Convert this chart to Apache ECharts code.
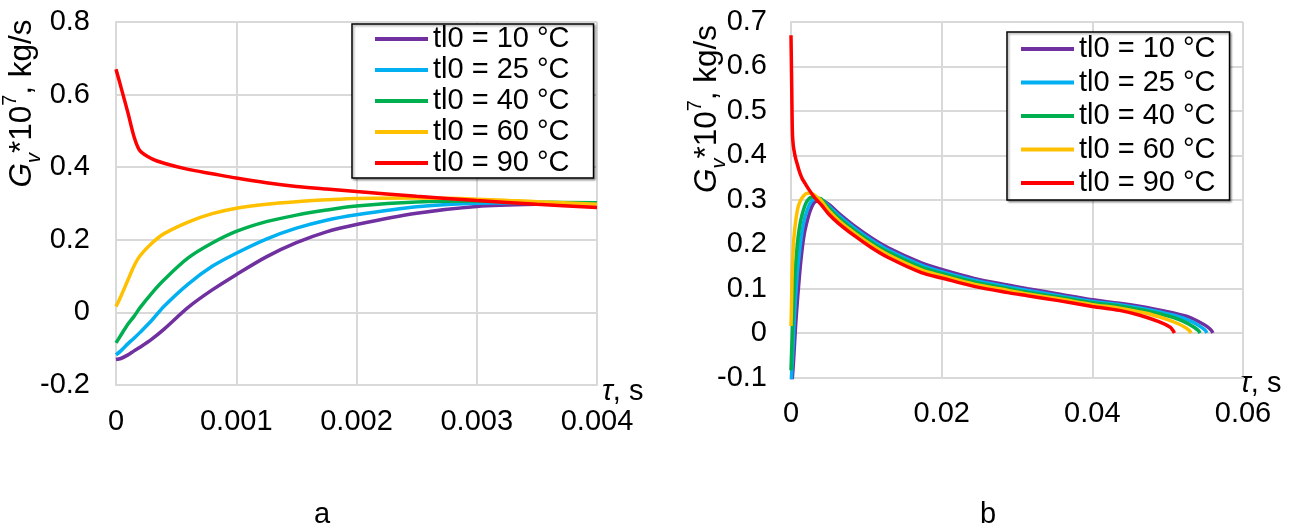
<!DOCTYPE html>
<html><head><meta charset="utf-8">
<script src="https://cdn.jsdelivr.net/npm/echarts@6/dist/echarts.min.js"></script>
<style>html,body{margin:0;padding:0;background:#fff;}#c{width:1296px;height:529px;}</style>
</head><body><div id="c"></div>
<script>
// ---- data ----
const seriesNames = ['tl0 = 10 °C', 'tl0 = 25 °C', 'tl0 = 40 °C', 'tl0 = 60 °C', 'tl0 = 90 °C'];
const colors = ['#7030A0', '#00B0F0', '#00B050', '#FFC000', '#FF0000'];

// panel a (also the start of panel b): time, s
const tA = [0, 0.00004, 0.0001, 0.00015, 0.0002, 0.0003, 0.0004, 0.0006, 0.0008, 0.001, 0.00125, 0.0015, 0.00175, 0.002, 0.0025, 0.003, 0.0035, 0.004];
const gA10 = [-0.130, -0.127, -0.117, -0.106, -0.096, -0.073, -0.046, 0.014, 0.062, 0.104, 0.153, 0.192, 0.222, 0.242, 0.273, 0.292, 0.298, 0.299];
const gA25 = [-0.117, -0.106, -0.086, -0.071, -0.055, -0.021, 0.017, 0.078, 0.127, 0.163, 0.202, 0.232, 0.254, 0.269, 0.291, 0.301, 0.302, 0.301];
const gA40 = [-0.084, -0.063, -0.032, -0.011, 0.013, 0.054, 0.090, 0.150, 0.191, 0.223, 0.250, 0.268, 0.282, 0.293, 0.304, 0.307, 0.304, 0.302];
const gA60 = [0.016, 0.044, 0.090, 0.128, 0.156, 0.191, 0.217, 0.249, 0.272, 0.287, 0.298, 0.305, 0.310, 0.314, 0.315, 0.312, 0.305, 0.298];
const gA90 = [0.670, 0.622, 0.549, 0.484, 0.445, 0.423, 0.411, 0.394, 0.382, 0.370, 0.357, 0.347, 0.340, 0.333, 0.320, 0.308, 0.298, 0.289];

// panel b continuation
const tB = [0.005, 0.0063, 0.0085, 0.0107, 0.0129, 0.0173, 0.02, 0.0243, 0.0288, 0.0314, 0.0355, 0.04, 0.0436];
const gB10 = [0.290, 0.270, 0.240, 0.214, 0.192, 0.158, 0.143, 0.123, 0.108, 0.100, 0.088, 0.075, 0.067];
const gB25 = [0.286, 0.265, 0.235, 0.209, 0.187, 0.153, 0.138, 0.119, 0.104, 0.096, 0.084, 0.071, 0.064];
const gB40 = [0.282, 0.260, 0.230, 0.204, 0.182, 0.148, 0.134, 0.115, 0.100, 0.092, 0.081, 0.068, 0.061];
const gB60 = [0.276, 0.254, 0.224, 0.198, 0.176, 0.142, 0.129, 0.110, 0.096, 0.088, 0.077, 0.064, 0.056];
const gB90 = [0.268, 0.247, 0.218, 0.192, 0.170, 0.136, 0.124, 0.105, 0.091, 0.084, 0.073, 0.060, 0.051];

// panel b endings
const tE10 = [0.048, 0.0525, 0.0542, 0.0552, 0.0558, 0.0560];
const gE10 = [0.055, 0.038, 0.025, 0.015, 0.006, 0];
const tE25 = [0.048, 0.0517, 0.0534, 0.0544, 0.0550, 0.0552];
const gE25 = [0.051, 0.036, 0.024, 0.014, 0.006, 0];
const tE40 = [0.048, 0.0508, 0.0525, 0.0535, 0.0541, 0.0543];
const gE40 = [0.047, 0.035, 0.023, 0.013, 0.005, 0];
const tE60 = [0.047, 0.0497, 0.0514, 0.0524, 0.0529, 0.0531];
const gE60 = [0.045, 0.032, 0.021, 0.012, 0.005, 0];
const tE90 = [0.0463, 0.0489, 0.0503, 0.0507, 0.0509];
const gE90 = [0.040, 0.025, 0.0135, 0.006, 0];

const yTicksA = { min: -0.2, max: 0.8, interval: 0.2 };
const xTicksA = { min: 0, max: 0.004, interval: 0.001 };
const yTicksB = { min: -0.1, max: 0.7, interval: 0.1 };
const xTicksB = { min: 0, max: 0.06, interval: 0.02 };

// ---- build ----
const FONT = '"Liberation Sans", Arial, sans-serif';
const gA = [gA10, gA25, gA40, gA60, gA90];
const gB = [gB10, gB25, gB40, gB60, gB90];
const tE = [tE10, tE25, tE40, tE60, tE90];
const gE = [gE10, gE25, gE40, gE60, gE90];
const pairs = (ts, gs) => ts.map((t, i) => [t, gs[i]]);

const series = [];
seriesNames.forEach((name, k) => {
  series.push({
    name, type: 'line', xAxisIndex: 0, yAxisIndex: 0,
    data: pairs(tA, gA[k]), symbol: 'none', showSymbol: false, smooth: 0.3,
    lineStyle: { width: 3.5, color: colors[k] }, itemStyle: { color: colors[k] }
  });
});
seriesNames.forEach((name, k) => {
  series.push({
    name, type: 'line', xAxisIndex: 1, yAxisIndex: 1,
    data: pairs(tA, gA[k]).concat(pairs(tB, gB[k]), pairs(tE[k], gE[k])),
    symbol: 'none', showSymbol: false, smooth: 0.3,
    lineStyle: { width: 3.5, color: colors[k] }, itemStyle: { color: colors[k] }
  });
});

const gridLine = { show: true, lineStyle: { color: '#d9d9d9', width: 2 } };
const axLine = { show: true, onZero: false, lineStyle: { color: '#d9d9d9', width: 2 } };
const lbl = (m) => ({ color: '#000', fontSize: 29, fontFamily: FONT, margin: m });
const tauName = '{i|τ}{n|, s}';
const tauRich = { i: { fontStyle: 'italic', fontSize: 29, fontFamily: FONT, color: '#000' }, n: { fontSize: 29, fontFamily: FONT, color: '#000' } };

const titleRich = {
  g: { fontStyle: 'italic', fontSize: 31.5, fontFamily: FONT, color: '#000', lineHeight: 44 },
  sub: { fontStyle: 'italic', fontSize: 20, fontFamily: FONT, color: '#000', lineHeight: 20, verticalAlign: 'bottom' },
  sup: { fontSize: 20, fontFamily: FONT, color: '#000', lineHeight: 32, verticalAlign: 'top' },
  n: { fontSize: 31.5, fontFamily: FONT, color: '#000', lineHeight: 44 }
};
const titleText = '{g|G}{sub|v}{n|*10}{sup|7}{n|, kg/s}';

const legendBase = {
  orient: 'vertical', data: seriesNames, icon: 'rect', itemWidth: 53, itemHeight: 4,
  borderColor: '#000', borderWidth: 1.5, backgroundColor: '#fff',
  shadowColor: 'rgba(0,0,0,0.35)', shadowBlur: 2, shadowOffsetX: 1.5, shadowOffsetY: 1.5,
  textStyle: { fontSize: 29, lineHeight: 30, color: '#000', fontFamily: FONT },
  selectedMode: false
};

const option = {
  animation: false,
  backgroundColor: '#fff',
  grid: [
    { left: 116, top: 22, width: 481, height: 363 },
    { left: 791, top: 22, width: 452, height: 355.5 }
  ],
  xAxis: [
    { type: 'value', gridIndex: 0, ...xTicksA, splitLine: gridLine, axisLine: axLine, axisTick: { show: false },
      axisLabel: lbl(22), name: tauName, nameLocation: 'end', nameGap: 5,
      nameTextStyle: { rich: tauRich, verticalAlign: 'middle', padding: [14, 0, 0, 0] } },
    { type: 'value', gridIndex: 1, ...xTicksB, splitLine: gridLine, axisLine: axLine, axisTick: { show: false },
      axisLabel: lbl(22), name: tauName, nameLocation: 'end', nameGap: -3,
      nameTextStyle: { rich: tauRich, verticalAlign: 'middle', padding: [12, 0, 0, 0] } }
  ],
  yAxis: [
    { type: 'value', gridIndex: 0, ...yTicksA, splitLine: gridLine, axisLine: axLine, axisTick: { show: false }, axisLabel: lbl(26) },
    { type: 'value', gridIndex: 1, ...yTicksB, splitLine: gridLine, axisLine: axLine, axisTick: { show: false }, axisLabel: lbl(24) }
  ],
  legend: [
    { ...legendBase, left: 352, top: 24, itemGap: 1, padding: [0, 24, 0, 23] },
    { ...legendBase, left: 1007, top: 32, itemGap: 3.5, padding: [2, 14, 2, 14] }
  ],
  graphic: [
    { type: 'text', x: 22.5, y: 103.5, rotation: Math.PI / 2,
      style: { text: titleText, rich: titleRich, align: 'center', verticalAlign: 'middle' } },
    { type: 'text', x: 707, y: 109, rotation: Math.PI / 2,
      style: { text: titleText, rich: titleRich, align: 'center', verticalAlign: 'middle' } },
    { type: 'text', x: 322, y: 515, style: { text: 'a', fontSize: 29, fontFamily: FONT, fill: '#000', align: 'center', verticalAlign: 'middle' } },
    { type: 'text', x: 988, y: 515, style: { text: 'b', fontSize: 29, fontFamily: FONT, fill: '#000', align: 'center', verticalAlign: 'middle' } }
  ],
  series
};

const chart = echarts.init(document.getElementById('c'), null, { renderer: 'canvas' });
chart.setOption(option);
</script>
</body></html>
